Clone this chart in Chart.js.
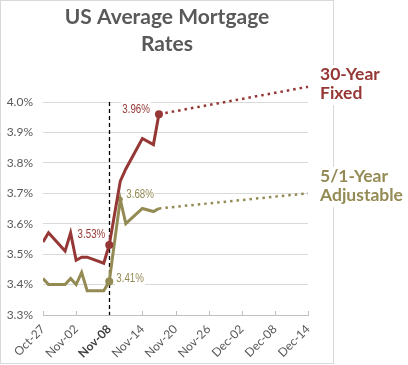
<!DOCTYPE html>
<html>
<head>
<meta charset="utf-8">
<title>US Average Mortgage Rates</title>
<script src="https://cdn.jsdelivr.net/npm/chart.js@4/dist/chart.umd.min.js"></script>
<style>
    html, body { margin: 0; padding: 0; background: #ffffff; }
    #wrap { width: 408px; height: 365px; }
</style>
</head>
<body>
<div id="wrap"><canvas id="myChart" width="408" height="365"></canvas></div>
<script>
/* US average mortgage rates, Oct-27 .. Dec-14 */
// x = days since Oct-27 (business days only)
const days = [0, 1, 4, 5, 6, 7, 8, 11, 12, 14, 15, 18, 20, 21];
const fixed30 = [3.54, 3.57, 3.51, 3.57, 3.48, 3.49, 3.49, 3.47, 3.53, 3.74, 3.78, 3.88, 3.86, 3.96];
const adj51 = [3.42, 3.40, 3.40, 3.42, 3.40, 3.44, 3.38, 3.38, 3.41, 3.68, 3.60, 3.65, 3.64, 3.65];
// dotted trend to the end of the axis
const projDays = [21, 48];
const fixed30Proj = [3.96, 4.05];
const adj51Proj = [3.65, 3.70];
// axis
const xTickLabels = ['Oct-27', 'Nov-02', 'Nov-08', 'Nov-14', 'Nov-20', 'Nov-26', 'Dec-02', 'Dec-08', 'Dec-14'];
const yTicks = [3.3, 3.4, 3.5, 3.6, 3.7, 3.8, 3.9, 4.0];
const electionDay = 12;
const seriesNames = [['30-Year', 'Fixed'], ['5/1-Year', 'Adjustable']];
const titleLines = ['US Average Mortgage', 'Rates'];

const RED = '#953735';
const GOLD = '#948A54';
const GREY = '#595959';

let apps = {
    toPoints: function(xs, ys) {
        return xs.map((x, i) => ({ x: x, y: ys[i] }));
    },
    // marker only on the labelled points
    radii: function(list, n) {
        return days.map((d, i) => list.indexOf(i) >= 0 ? n : 0);
    },
    decor: {
        id: 'decor',
        beforeDraw: function(chart) {
            const ctx = chart.ctx;
            ctx.save();
            ctx.fillStyle = '#ffffff';
            ctx.fillRect(0, 0, chart.width, chart.height);
            ctx.strokeStyle = '#d9d9d9';
            ctx.lineWidth = 1;
            ctx.strokeRect(0.5, 0.5, 333, 363);
            ctx.restore();
        },
        beforeDatasetsDraw: function(chart) {
            const ctx = chart.ctx;
            const x = chart.scales.x;
            const y = chart.scales.y;
            ctx.save();
            // little tick marks pointing up from the x axis
            ctx.strokeStyle = '#bfbfbf';
            ctx.lineWidth = 1;
            x.ticks.forEach(t => {
                const px = Math.round(x.getPixelForValue(t.value)) + 0.5;
                ctx.beginPath();
                ctx.moveTo(px, y.bottom);
                ctx.lineTo(px, y.bottom - 4);
                ctx.stroke();
            });
            // election day marker
            const ex = Math.round(x.getPixelForValue(electionDay)) + 0.5;
            ctx.strokeStyle = '#000000';
            ctx.lineWidth = 1.3;
            ctx.setLineDash([4, 3]);
            ctx.beginPath();
            ctx.moveTo(ex, y.top);
            ctx.lineTo(ex, y.bottom);
            ctx.stroke();
            ctx.restore();
        },
        afterDraw: function(chart) {
            const ctx = chart.ctx;
            ctx.save();
            // title
            ctx.fillStyle = GREY;
            ctx.font = 'bold 21px Lato, "Open Sans", sans-serif';
            ctx.textAlign = 'center';
            ctx.textBaseline = 'alphabetic';
            ctx.fillText(titleLines[0], 167, 24);
            ctx.fillText(titleLines[1], 167, 51);

            // series names on the right
            ctx.font = 'bold 17.5px Lato, "Open Sans", sans-serif';
            ctx.textAlign = 'left';
            const blocks = [[RED, 67], [GOLD, 169]];
            blocks.forEach((b, i) => {
                const w = Math.max(ctx.measureText(seriesNames[i][0]).width, ctx.measureText(seriesNames[i][1]).width);
                ctx.fillStyle = '#ffffff';
                ctx.fillRect(318, b[1] - 2, w + 4, 40);
                ctx.fillStyle = b[0];
                ctx.fillText(seriesNames[i][0], 320, b[1] + 13);
                ctx.fillText(seriesNames[i][1], 320, b[1] + 32);
            });

            // data labels, squeezed a bit like a narrow font
            const sx = 0.78;
            ctx.font = '12.5px "Liberation Sans", sans-serif';
            ctx.textBaseline = 'middle';
            const labels = [
                { ds: 0, i: 8, dx: -4, dy: -10, align: 'right', color: RED },
                { ds: 0, i: 13, dx: -9, dy: -5, align: 'right', color: RED },
                { ds: 1, i: 9, dx: 6, dy: -5, align: 'left', color: GOLD },
                { ds: 1, i: 8, dx: 7, dy: -3, align: 'left', color: GOLD }
            ];
            labels.forEach(l => {
                const pt = chart.getDatasetMeta(l.ds).data[l.i];
                const v = chart.data.datasets[l.ds].data[l.i].y;
                const txt = v.toFixed(2) + '%';
                const w = ctx.measureText(txt).width * sx;
                const px = pt.x + l.dx;
                const py = pt.y + l.dy;
                const left = l.align === 'right' ? px - w : px;
                ctx.fillStyle = '#ffffff';
                ctx.fillRect(left - 1, py - 7, w + 2, 14);
                ctx.save();
                ctx.translate(left, py);
                ctx.scale(sx, 1);
                ctx.fillStyle = l.color;
                ctx.textAlign = 'left';
                ctx.fillText(txt, 0, 0);
                ctx.restore();
            });
            ctx.restore();
        }
    },
    chartOptions: function() {
        return {
            responsive: false,
            animation: false,
            layout: {
                padding: { top: 102, right: 100, left: 0, bottom: 0 }
            },
            plugins: {
                legend: { display: false },
                tooltip: { enabled: false },
                title: { display: false }
            },
            scales: {
                x: {
                    type: 'linear',
                    min: 0,
                    max: 48,
                    afterBuildTicks: function(scale) {
                        scale.ticks = xTickLabels.map((l, i) => ({ value: i * 6 }));
                    },
                    afterFit: function(scale) {
                        scale.height = 50;
                    },
                    grid: {
                        drawOnChartArea: false,
                        drawTicks: false
                    },
                    border: { color: '#bfbfbf', width: 1 },
                    ticks: {
                        autoSkip: false,
                        maxRotation: 45,
                        minRotation: 45,
                        padding: 7,
                        color: function(c) { return c.index === 2 ? '#404040' : GREY; },
                        font: function(c) {
                            return {
                                family: 'Lato, "Open Sans", sans-serif',
                                size: 12,
                                weight: c.index === 2 ? 'bold' : 'normal'
                            };
                        },
                        callback: function(v, i) { return xTickLabels[i]; }
                    }
                },
                y: {
                    min: 3.3,
                    max: 4.0,
                    afterBuildTicks: function(scale) {
                        scale.ticks = yTicks.map(v => ({ value: v }));
                    },
                    afterFit: function(scale) {
                        scale.width = 43;
                    },
                    grid: {
                        color: '#d9d9d9',
                        drawTicks: false
                    },
                    border: { display: false },
                    ticks: {
                        padding: 10,
                        color: GREY,
                        font: { family: 'Lato, "Open Sans", sans-serif', size: 12 },
                        callback: function(v) { return v.toFixed(1) + '%'; }
                    }
                }
            }
        };
    },
    drawChart: function() {
        const ctx = document.getElementById('myChart');
        return new Chart(ctx, {
            type: 'line',
            data: {
                datasets: [{
                    label: '30-Year Fixed',
                    data: apps.toPoints(days, fixed30),
                    borderColor: RED,
                    backgroundColor: RED,
                    borderWidth: 3,
                    pointRadius: apps.radii([8, 13], 4),
                    pointBorderWidth: 0,
                    fill: false,
                    tension: 0
                }, {
                    label: '5/1-Year Adjustable',
                    data: apps.toPoints(days, adj51),
                    borderColor: GOLD,
                    backgroundColor: GOLD,
                    borderWidth: 3,
                    pointRadius: days.map((d, i) => i === 8 ? 4 : (i === 9 ? 2.5 : 0)),
                    pointBorderWidth: 0,
                    fill: false,
                    tension: 0
                }, {
                    label: '30-Year trend',
                    data: apps.toPoints(projDays, fixed30Proj),
                    borderColor: RED,
                    borderWidth: 2.5,
                    borderDash: [2.5, 4],
                    pointRadius: 0,
                    fill: false,
                    clip: false
                }, {
                    label: '5/1-Year trend',
                    data: apps.toPoints(projDays, adj51Proj),
                    borderColor: GOLD,
                    borderWidth: 2.5,
                    borderDash: [2.5, 4],
                    pointRadius: 0,
                    fill: false,
                    clip: false
                }]
            },
            options: apps.chartOptions(),
            plugins: [apps.decor]
        });
    }
};

apps.drawChart();
</script>
</body>
</html>
